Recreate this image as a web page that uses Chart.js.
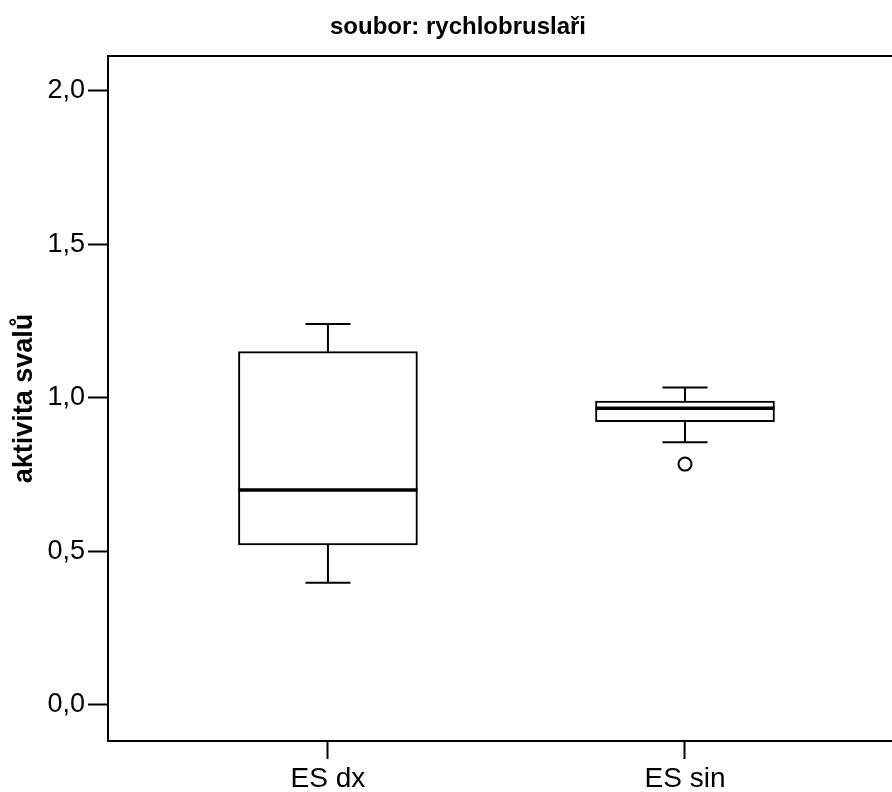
<!DOCTYPE html>
<html>
<head>
<meta charset="utf-8">
<script src="https://cdn.jsdelivr.net/npm/chart.js@4.4.1/dist/chart.umd.min.js"></script>
<style>
html,body{margin:0;background:#fff;overflow:hidden}
canvas{display:block}
</style>
</head>
<body>
<canvas id="boxChart" width="916" height="792"></canvas>
<script>
/* data: one box per muscle side */
const groups=['ES dx','ES sin'];
const groupPos=[1,2];
const whiskerLow=[0.398,0.855];
const q1=[0.521,0.922];
const median=[0.700,0.966];
const q3=[1.150,0.989];
const whiskerHigh=[1.240,1.033];
const outliers=[{x:2,y:0.784}];
const yTicks=[0,0.5,1,1.5,2];

const FONT='"Liberation Sans", Arial, sans-serif';
const capHalf=0.063;

/* whiskers, caps, medians and the top frame line */
const boxParts={
  id:'boxParts',
  afterDatasetsDraw(chart){
    const {ctx,chartArea:a,scales:{x,y}}=chart;
    ctx.save();
    ctx.strokeStyle='#000';
    ctx.lineCap='butt';
    groupPos.forEach((p,i)=>{
      const cx=x.getPixelForValue(p);
      const cl=x.getPixelForValue(p-capHalf),cr=x.getPixelForValue(p+capHalf);
      ctx.lineWidth=2;
      ctx.beginPath();
      ctx.moveTo(cx,y.getPixelForValue(q3[i]));ctx.lineTo(cx,y.getPixelForValue(whiskerHigh[i]));
      ctx.moveTo(cx,y.getPixelForValue(q1[i]));ctx.lineTo(cx,y.getPixelForValue(whiskerLow[i]));
      ctx.moveTo(cl,y.getPixelForValue(whiskerHigh[i]));ctx.lineTo(cr,y.getPixelForValue(whiskerHigh[i]));
      ctx.moveTo(cl,y.getPixelForValue(whiskerLow[i]));ctx.lineTo(cr,y.getPixelForValue(whiskerLow[i]));
      ctx.stroke();
      const bar=chart.getDatasetMeta(0).data[i];
      const half=bar.width/2;
      ctx.lineWidth=3.5;
      ctx.beginPath();
      ctx.moveTo(cx-half,y.getPixelForValue(median[i]));
      ctx.lineTo(cx+half,y.getPixelForValue(median[i]));
      ctx.stroke();
    });
    ctx.lineWidth=2;
    ctx.beginPath();
    ctx.moveTo(a.left-1,a.top);ctx.lineTo(chart.width,a.top);
    ctx.stroke();
    ctx.restore();
  }
};

new Chart(document.getElementById('boxChart'),{
  type:'bar',
  data:{datasets:[
    {type:'bar',data:groupPos.map((p,i)=>({x:p,y:[q1[i],q3[i]]})),
     backgroundColor:'#fff',borderColor:'#000',borderWidth:2,borderSkipped:false,barThickness:179},
    {type:'scatter',data:outliers,pointStyle:'circle',pointRadius:6.5,
     pointBackgroundColor:'#fff',pointBorderColor:'#000',pointBorderWidth:2}
  ]},
  options:{
    responsive:false,animation:false,
    layout:{autoPadding:false,padding:0},
    plugins:{
      legend:{display:false},tooltip:{enabled:false},
      title:{display:true,text:'soubor: rychlobruslaři',color:'#000',
        font:{family:FONT,size:24,weight:'bold'},padding:{top:13,bottom:14.2}}
    },
    scales:{
      x:{type:'linear',min:0.384,max:2.647,offset:false,
        afterBuildTicks(s){s.ticks=groupPos.map(v=>({value:v}));},
        afterFit(s){s.height=51;s.paddingRight=0;s.paddingLeft=0;},
        ticks:{color:'#000',font:{family:FONT,size:28},padding:3,maxRotation:0,
          callback:v=>groups[groupPos.indexOf(v)]},
        grid:{offset:false,drawOnChartArea:false,tickLength:18,tickWidth:2,tickColor:'#000'},
        border:{color:'#000',width:2}},
      y:{min:-0.1172,max:2.1123,
        afterBuildTicks(s){s.ticks=yTicks.map(v=>({value:v}));},
        afterFit(s){s.width=108;s.paddingTop=0;s.paddingBottom=0;},
        ticks:{color:'#000',font:{family:FONT,size:27},padding:3,
          callback:v=>v.toFixed(1).replace('.',',')},
        grid:{drawOnChartArea:false,tickLength:20,tickWidth:2,tickColor:'#000'},
        border:{color:'#000',width:2},
        title:{display:true,text:'aktivita svalů',color:'#000',
          font:{family:FONT,size:27,weight:'bold'},padding:{top:8,bottom:0}}}
    }
  },
  plugins:[boxParts]
});
</script>
</body>
</html>
